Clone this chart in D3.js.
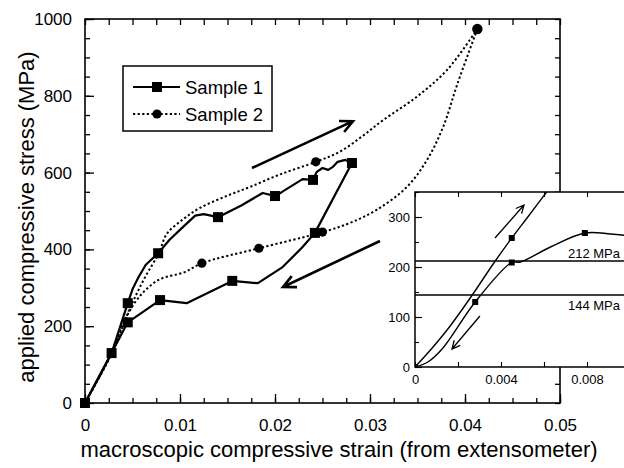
<!DOCTYPE html>
<html lang="en">
<head>
  <meta charset="utf-8">
  <title>Compressive stress vs strain</title>
  <style>
    body { margin: 0; background: #fff; }
    svg text { font-family: "Liberation Sans", Arial, Helvetica, sans-serif; fill: #000; }
  </style>
</head>
<body>
  <svg id="chart" width="624" height="468"></svg>
  <script src="https://d3js.org/d3.v7.min.js"></script>
  <script>
    // ---------------- data (strain, stress in MPa)
    const s1Loading = [[0, 0], [0.0028, 130], [0.0045, 260], [0.0050, 296], [0.0056, 326], [0.0064, 360],
      [0.0077, 390], [0.0089, 425], [0.0103, 458], [0.0116, 488], [0.0125, 492], [0.0140, 484],
      [0.0165, 515], [0.0187, 547], [0.0200, 539], [0.0207, 549], [0.0229, 583], [0.0240, 581],
      [0.0244, 602], [0.0250, 612], [0.0256, 607], [0.0261, 615], [0.0266, 628], [0.0274, 633],
      [0.0281, 625]]
    const s1Unloading = [[0.0281, 625], [0.0242, 443], [0.0229, 406], [0.0208, 354], [0.0182, 312],
      [0.0155, 318], [0.0107, 260], [0.0079, 268], [0.0045, 210], [0.0028, 130], [0, 0]]
    const s1Markers = [[0, 0], [0.0028, 130], [0.0045, 260], [0.0077, 390], [0.0140, 484], [0.0200, 539],
      [0.0240, 581], [0.0281, 625], [0.0242, 443], [0.0155, 318], [0.0079, 268], [0.0045, 210]]

    const s2Loading = [[0, 0], [0.0028, 128], [0.0047, 245], [0.0062, 322], [0.0078, 392], [0.0086, 440],
      [0.0103, 478], [0.0121, 508], [0.0150, 540], [0.0174, 563], [0.0205, 595], [0.0243, 628],
      [0.0268, 654], [0.0292, 695], [0.0314, 737], [0.0349, 797], [0.0381, 867], [0.0413, 974]]
    const s2Unloading = [[0.0413, 974], [0.0392, 831], [0.0377, 719], [0.0360, 633], [0.0339, 563],
      [0.0307, 503], [0.0279, 469], [0.0250, 445], [0.0183, 403], [0.0123, 364], [0.0105, 341],
      [0.0077, 320], [0.0056, 273], [0.0042, 216], [0.0028, 130], [0, 0]]
    const s2Markers = [[0, 0], [0.0243, 628], [0.0413, 974], [0.0250, 445], [0.0183, 403], [0.0123, 364]]

    // inset: close-up of sample 1 near the origin
    const inLoading = [[0, 0], [0.0008, 38], [0.0016, 80], [0.0026, 140], [0.0037, 210], [0.0045, 258],
      [0.0053, 303], [0.0063, 360]]
    const inUnloading = [[0.0100, 262], [0.0091, 266], [0.0079, 268], [0.0063, 240], [0.0049, 210],
      [0.0045, 209], [0.0028, 130], [0.0013, 38], [0.0006, 10], [0, 0]]
    const inMarkers = [[0, 0], [0.0045, 258], [0.0079, 268], [0.0045, 209], [0.0028, 130]]
    const inLevels = [212, 144]

    const mainArrows = [[[0.01758, 612], [0.02821, 734]], [[0.03105, 422], [0.02084, 302]]]
    const inArrows = [[[0.00372, 258], [0.00507, 324]], [[0.00302, 102], [0.00172, 36]]]

    const xTicks = [0, 0.01, 0.02, 0.03, 0.04, 0.05]
    const yTicks = [0, 200, 400, 600, 800, 1000]
    const inXTicks = [0, 0.004, 0.008]
    const inYTicks = [0, 100, 200, 300]

    // ---------------- layout
    const width = 624, height = 468
    const margins = { top: 19, right: 64, bottom: 65, left: 85 }
    const chartWidth = width - margins.left - margins.right
    const chartHeight = height - margins.top - margins.bottom

    const svg = d3.select("#chart")

    const xScale = d3.scaleLinear().domain([0, 0.05]).range([margins.left, margins.left + chartWidth])
    const yScale = d3.scaleLinear().domain([0, 1000]).range([margins.top + chartHeight, margins.top])

    const inX = d3.scaleLinear().domain([0, 0.002]).range([415, 458])
    const inY = d3.scaleLinear().domain([0, 350]).range([367, 192])
    const inRight = 632

    // ---------------- main axes
    function addAxis(axis, tx, ty, size) {
      const g = svg.append("g")
        .attr("transform", `translate(${tx},${ty})`)
        .style("font-size", size)
        .call(axis)
      g.select(".domain").remove()
      g.selectAll(".tick line").attr("stroke", "#000").attr("stroke-width", 1.3)
      g.selectAll("text").style("font-family", '"Liberation Sans", Arial, sans-serif').attr("fill", "#000")
      return g
    }
    const yBase = yScale(0)

    // minor ticks
    addAxis(d3.axisBottom(xScale).tickValues(d3.range(0, 0.0501, 0.0025)).tickSize(-5).tickFormat(""), 0, yBase, "0px")
    addAxis(d3.axisTop(xScale).tickValues(d3.range(0, 0.0501, 0.0025)).tickSize(-6).tickFormat(""), 0, margins.top, "0px")
    addAxis(d3.axisLeft(yScale).tickValues(d3.range(0, 1001, 50)).tickSize(-5).tickFormat(""), margins.left, 0, "0px")
    addAxis(d3.axisRight(yScale).tickValues(d3.range(0, 1001, 50)).tickSize(-5).tickFormat(""), margins.left + chartWidth, 0, "0px")

    // major ticks + labels
    addAxis(d3.axisBottom(xScale).tickValues(xTicks).tickSize(-9).tickPadding(16).tickFormat(d => d === 0 ? "0" : d3.format(".2f")(d)), 0, yBase, "17px")
    addAxis(d3.axisLeft(yScale).tickValues(yTicks).tickSize(-9).tickPadding(13).tickFormat(d3.format("d")), margins.left, 0, "17px")

    svg.append("rect")
      .attr("x", margins.left).attr("y", margins.top)
      .attr("width", chartWidth).attr("height", chartHeight)
      .attr("fill", "none").attr("stroke", "#000").attr("stroke-width", 1.6)

    svg.append("text")
      .text("macroscopic compressive strain (from extensometer)")
      .attr("x", 339).attr("y", 457)
      .attr("text-anchor", "middle")
      .style("font-size", "22px")

    svg.append("text")
      .text("applied compressive stress (MPa)")
      .attr("transform", "translate(34,217) rotate(-90)")
      .attr("text-anchor", "middle")
      .style("font-size", "22px")

    // ---------------- curves
    const mainLine = d3.line().x(d => xScale(d[0])).y(d => yScale(d[1]))
    const smoothLine = d3.line().x(d => xScale(d[0])).y(d => yScale(d[1])).curve(d3.curveCatmullRom.alpha(0.5))

    const plot = svg.append("g")

    ;[s2Loading, s2Unloading].forEach(d => {
      plot.append("path").attr("d", smoothLine(d))
        .attr("fill", "none").attr("stroke", "#000").attr("stroke-width", 2)
        .attr("stroke-dasharray", "2.2,2.4")
    })
    ;[s1Loading, s1Unloading].forEach(d => {
      plot.append("path").attr("d", mainLine(d))
        .attr("fill", "none").attr("stroke", "#000").attr("stroke-width", 2.2)
        .attr("stroke-linejoin", "round")
    })

    plot.selectAll("circle.s2").data(s2Markers)
      .join("circle").attr("class", "s2")
      .attr("cx", d => xScale(d[0])).attr("cy", d => yScale(d[1]))
      .attr("r", d => d[1] > 900 ? 5.2 : 4.6)
      .attr("fill", "#000")

    plot.selectAll("rect.s1").data(s1Markers)
      .join("rect").attr("class", "s1")
      .attr("x", d => xScale(d[0]) - 5).attr("y", d => yScale(d[1]) - 5)
      .attr("width", 10).attr("height", 10)
      .attr("fill", "#000")

    // ---------------- arrows
    function arrow(g, a, b, sx, sy, w, head) {
      const x1 = sx(a[0]), y1 = sy(a[1]), x2 = sx(b[0]), y2 = sy(b[1])
      const ang = Math.atan2(y2 - y1, x2 - x1)
      const spread = 0.45
      const p = d3.path()
      p.moveTo(x1, y1); p.lineTo(x2, y2)
      p.moveTo(x2 - head * Math.cos(ang - spread), y2 - head * Math.sin(ang - spread))
      p.lineTo(x2, y2)
      p.lineTo(x2 - head * Math.cos(ang + spread), y2 - head * Math.sin(ang + spread))
      g.append("path").attr("d", p.toString())
        .attr("fill", "none").attr("stroke", "#000").attr("stroke-width", w)
        .attr("stroke-linejoin", "miter")
    }
    mainArrows.forEach(a => arrow(svg, a[0], a[1], xScale, yScale, 2.6, 14))

    // ---------------- legend
    const legend = svg.append("g")
    legend.append("rect")
      .attr("x", 123).attr("y", 66).attr("width", 149).attr("height", 65)
      .attr("fill", "#fff").attr("stroke", "#000").attr("stroke-width", 1.5)
    legend.append("line").attr("x1", 133).attr("x2", 180).attr("y1", 87).attr("y2", 87)
      .attr("stroke", "#000").attr("stroke-width", 2.2)
    legend.append("rect").attr("x", 152).attr("y", 82).attr("width", 10).attr("height", 10).attr("fill", "#000")
    legend.append("line").attr("x1", 133).attr("x2", 180).attr("y1", 114).attr("y2", 114)
      .attr("stroke", "#000").attr("stroke-width", 2).attr("stroke-dasharray", "2.2,2.4")
    legend.append("circle").attr("cx", 157).attr("cy", 114).attr("r", 4.6).attr("fill", "#000")
    legend.append("text").text("Sample 1").attr("x", 185).attr("y", 93.5).style("font-size", "18.5px")
    legend.append("text").text("Sample 2").attr("x", 185).attr("y", 120.5).style("font-size", "18.5px")

    // ---------------- inset
    const inset = svg.append("g")
    svg.append("clipPath").attr("id", "inclip")
      .append("rect").attr("x", inX(0)).attr("y", inY(350)).attr("width", inRight - inX(0)).attr("height", inY(0) - inY(350))

    inset.append("rect")
      .attr("x", inX(0)).attr("y", inY(350))
      .attr("width", inRight - inX(0)).attr("height", inY(0) - inY(350))
      .attr("fill", "#fff")

    function addInAxis(axis, tx, ty, size) {
      const g = inset.append("g")
        .attr("transform", `translate(${tx},${ty})`)
        .style("font-size", size)
        .call(axis)
      g.select(".domain").remove()
      g.selectAll(".tick line").attr("stroke", "#000").attr("stroke-width", 1.1)
      g.selectAll("text").style("font-family", '"Liberation Sans", Arial, sans-serif').attr("fill", "#000")
      return g
    }
    addInAxis(d3.axisBottom(inX).tickValues(d3.range(0, 0.0099, 0.002)).tickSize(-5).tickFormat(""), 0, inY(0), "0px")
    addInAxis(d3.axisTop(inX).tickValues(d3.range(0, 0.0099, 0.002)).tickSize(-5).tickFormat(""), 0, inY(350), "0px")
    addInAxis(d3.axisLeft(inY).tickValues(d3.range(0, 351, 50)).tickSize(-4).tickFormat(""), inX(0), 0, "0px")
    addInAxis(d3.axisLeft(inY).tickValues(inYTicks).tickSize(-7).tickPadding(5).tickFormat(d3.format("d")), inX(0), 0, "13px")
    addInAxis(d3.axisBottom(inX).tickValues(inXTicks).tickSize(0).tickPadding(8).tickFormat(d => d === 0 ? "0" : d3.format(".3f")(d)), 0, inY(0), "13px")

    const inContent = inset.append("g").attr("clip-path", "url(#inclip)")

    inContent.selectAll("line.level").data(inLevels)
      .join("line").attr("class", "level")
      .attr("x1", inX(0)).attr("x2", inRight)
      .attr("y1", d => inY(d)).attr("y2", d => inY(d))
      .attr("stroke", "#000").attr("stroke-width", 1.3)

    const inLine = d3.line().x(d => inX(d[0])).y(d => inY(d[1])).curve(d3.curveCatmullRom.alpha(0.5))
    ;[inLoading, inUnloading].forEach(d => {
      inContent.append("path").attr("d", inLine(d))
        .attr("fill", "none").attr("stroke", "#000").attr("stroke-width", 1.4)
    })
    inContent.selectAll("rect.m").data(inMarkers)
      .join("rect").attr("class", "m")
      .attr("x", d => inX(d[0]) - 3).attr("y", d => inY(d[1]) - 3)
      .attr("width", 6).attr("height", 6).attr("fill", "#000")

    inArrows.forEach(a => arrow(inContent, a[0], a[1], inX, inY, 1.3, 9))

    inset.append("text").text("212 MPa")
      .attr("x", 620).attr("y", inY(212) - 3).attr("text-anchor", "end").style("font-size", "13px")
    inset.append("text").text("144 MPa")
      .attr("x", 620).attr("y", inY(144) + 15).attr("text-anchor", "end").style("font-size", "13px")

    inset.append("rect")
      .attr("x", inX(0)).attr("y", inY(350))
      .attr("width", inRight - inX(0)).attr("height", inY(0) - inY(350))
      .attr("fill", "none").attr("stroke", "#000").attr("stroke-width", 1.5)
  </script>
</body>
</html>
